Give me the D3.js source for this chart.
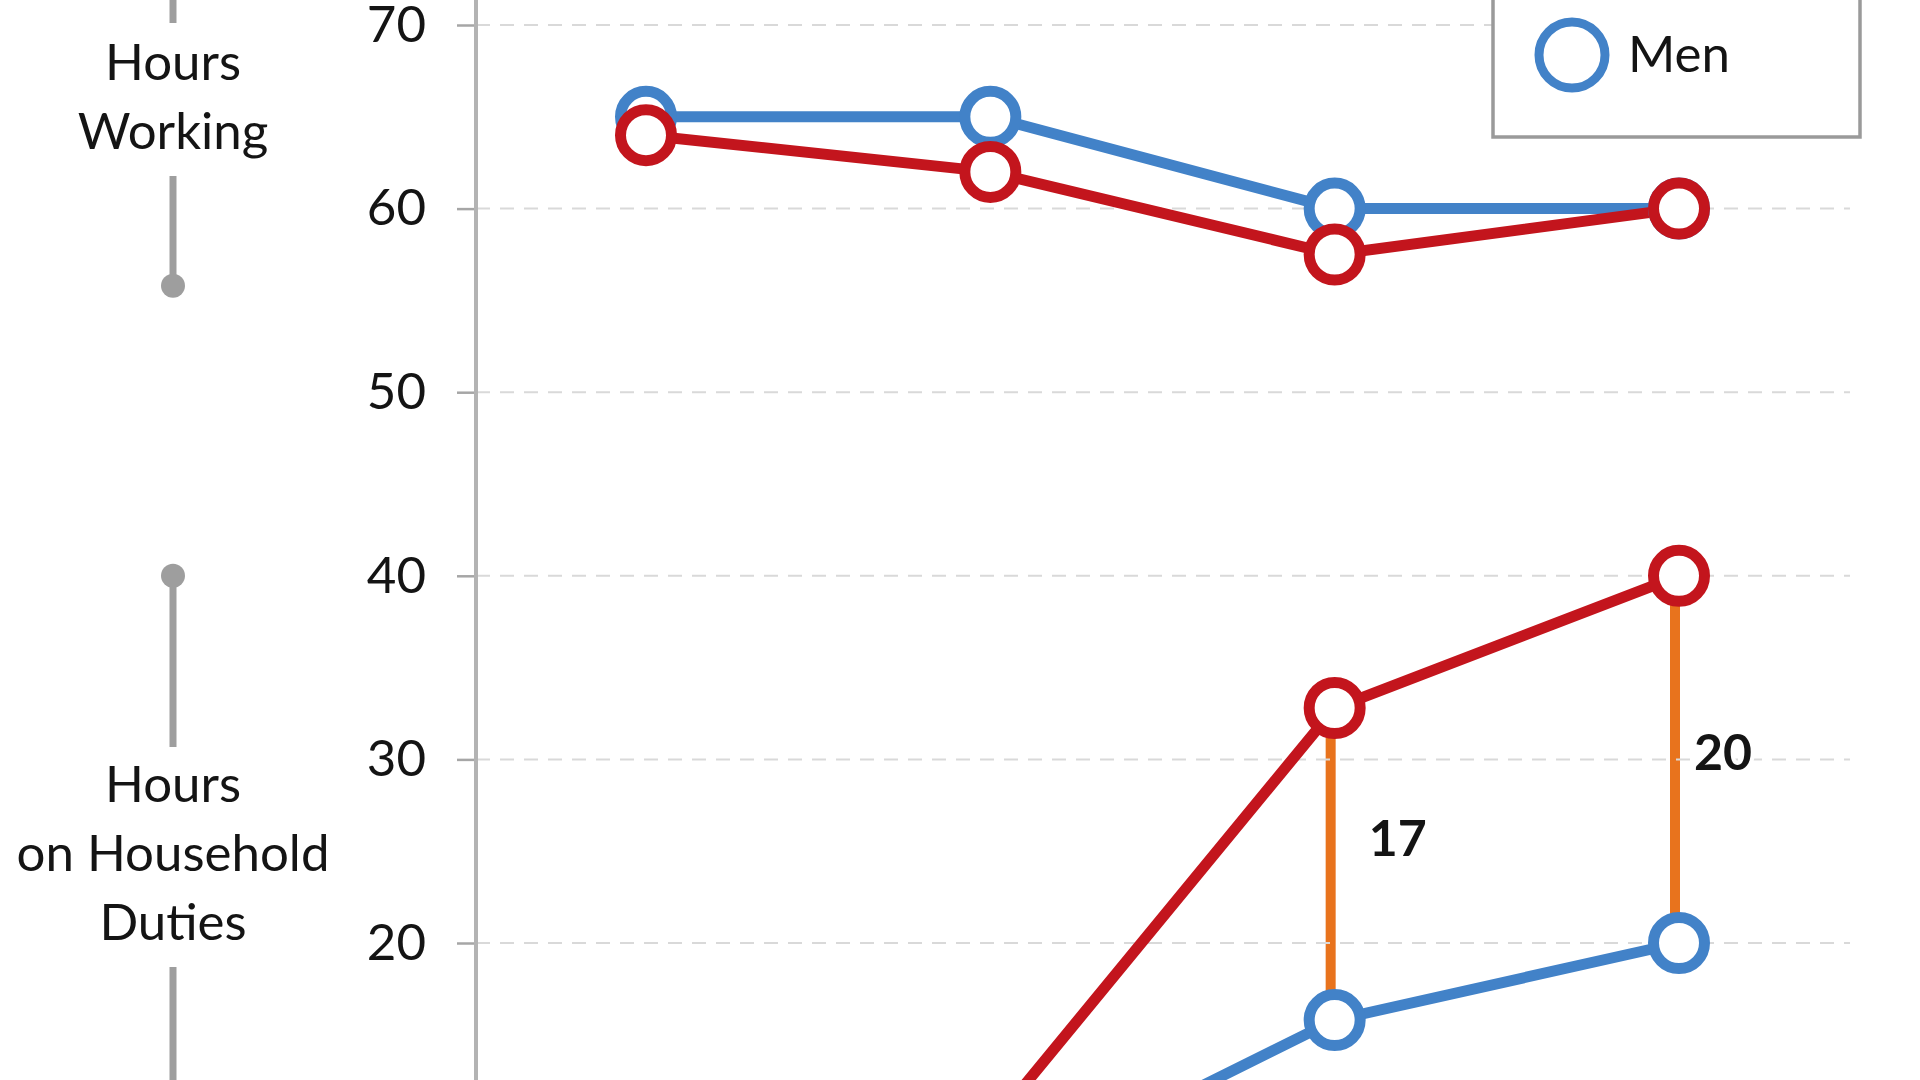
<!DOCTYPE html>
<html>
  <head>
    <style>
      html, body {
        padding: 0;
        margin: 0;
        overflow: hidden;
        background: #ffffff;
      }
      svg {
        font-family: Lato, "Open Sans", sans-serif;
      }
      .grid line {
        stroke: #d9d9d9;
        stroke-width: 2;
        stroke-dasharray: 14 10;
      }
      .axis text {
        font-size: 51px;
        fill: #141414;
      }
      .axis .tick line {
        stroke: #a6a6a6;
        stroke-width: 2.5;
      }
      .side-label {
        font-size: 51px;
        fill: #141414;
        text-anchor: middle;
      }
      .gap-label {
        font-size: 50px;
        font-weight: 700;
        fill: #141414;
        stroke: #ffffff;
        stroke-width: 8px;
        paint-order: stroke;
      }
    </style>
  </head>
  <body>
    <div id="chart"></div>
    <script src="https://cdnjs.cloudflare.com/ajax/libs/d3/7.8.5/d3.min.js"></script>
    <script>
      // stages along the x axis (their labels sit below the visible crop)
      let stages = ['stage1', 'stage2', 'stage3', 'stage4'];

      // weekly hours
      let womenWorking = [64, 62, 57.5, 60];
      let menWorking = [65, 65, 60, 60];
      let womenHousehold = [10, 10, 32.8, 40];
      let menHousehold = [6.5, 6.5, 15.8, 20];

      // gaps marked with the orange bars
      let gapStages = ['stage3', 'stage4'];
      let gapLabels = ['17', '20'];
      let gapLabelValues = [25.7, 30.4];

      let yTicks = [20, 30, 40, 50, 60, 70];
      let gridValues = [10, 20, 30, 40, 50, 60, 70];

      (() => {
        let width = 1920
        let height = 1080

        let blue = '#4282c8'
        let red = '#c3151d'
        let orange = '#e8731d'
        let grey = '#9e9e9e'

        let svg = d3.select('#chart')
          .append('svg')
          .attr('width', width)
          .attr('height', height)

        let x = d3.scalePoint()
          .domain(stages)
          .range([646, 1679])

        let y = d3.scaleLinear()
          .domain([20, 70])
          .range([943, 25])

        let axisX = 476

        // orange gap bars sit under the grid
        let gaps = svg.append('g')
        gapStages.forEach((s, i) => {
          let k = stages.indexOf(s)
          gaps.append('line')
            .attr('x1', x(s) - 4)
            .attr('x2', x(s) - 4)
            .attr('y1', y(womenHousehold[k]))
            .attr('y2', y(menHousehold[k]))
            .attr('stroke', orange)
            .attr('stroke-width', 10)
        })

        // dashed grid
        svg.append('g').attr('class', 'grid')
          .selectAll('line')
          .data(gridValues)
          .enter().append('line')
          .attr('x1', axisX)
          .attr('x2', 1850)
          .attr('y1', d => y(d))
          .attr('y2', d => y(d))

        gapStages.forEach((s, i) => {
          svg.append('text')
            .attr('class', 'gap-label')
            .attr('x', x(s) + (i == 0 ? 34 : 15))
            .attr('y', y(gapLabelValues[i]))
            .attr('dy', '0.35em')
            .text(gapLabels[i])
        })

        // y axis
        let axis = svg.append('g')
          .attr('class', 'axis')
          .attr('transform', 'translate(' + axisX + ',0)')
          .call(d3.axisLeft(y).tickValues(yTicks).tickSize(19).tickPadding(31))
        axis.select('.domain').remove()
        axis.selectAll('text').attr('font-family', 'Lato, sans-serif')
        svg.append('line')
          .attr('x1', axisX).attr('x2', axisX)
          .attr('y1', 0).attr('y2', height)
          .attr('stroke', '#b3b3b3')
          .attr('stroke-width', 4)

        // series
        let line = d3.line()
          .x((d, i) => x(stages[i]))
          .y(d => y(d))

        let series = [
          {values: menWorking, color: blue},
          {values: menHousehold, color: blue},
          {values: womenWorking, color: red},
          {values: womenHousehold, color: red},
        ]

        series.forEach(s => {
          svg.append('path')
            .datum(s.values)
            .attr('d', line)
            .attr('fill', 'none')
            .attr('stroke', s.color)
            .attr('stroke-width', 11)
        })

        series.forEach(s => {
          svg.selectAll(null)
            .data(s.values)
            .enter().append('circle')
            .attr('cx', (d, i) => x(stages[i]))
            .attr('cy', d => y(d))
            .attr('r', 25.5)
            .attr('fill', '#ffffff')
            .attr('stroke', s.color)
            .attr('stroke-width', 11)
        })

        // side brackets
        let brackets = [
          {lines: ['Hours', 'Working'], top: 75, bottom: 55.8, dot: 55.8, textY: 80, gapTop: 23, gapBottom: 176},
          {lines: ['Hours', 'on Household', 'Duties'], top: 40, bottom: 5, dot: 40, textY: 802, gapTop: 747, gapBottom: 967},
        ]
        let bx = 173
        brackets.forEach(b => {
          let g = svg.append('g')
          g.append('line')
            .attr('x1', bx).attr('x2', bx)
            .attr('y1', y(b.top)).attr('y2', b.gapTop)
            .attr('stroke', grey).attr('stroke-width', 7)
          g.append('line')
            .attr('x1', bx).attr('x2', bx)
            .attr('y1', b.gapBottom).attr('y2', y(b.bottom))
            .attr('stroke', grey).attr('stroke-width', 7)
          g.append('circle')
            .attr('cx', bx)
            .attr('cy', y(b.dot))
            .attr('r', 12)
            .attr('fill', grey)
          b.lines.forEach((t, i) => {
            g.append('text')
              .attr('class', 'side-label')
              .attr('x', bx)
              .attr('y', b.textY + i * 69)
              .text(t)
          })
        })

        // legend (its upper entry is cut off in the picture)
        let legend = svg.append('g')
        legend.append('rect')
          .attr('x', 1493)
          .attr('y', -200)
          .attr('width', 367)
          .attr('height', 337)
          .attr('fill', '#ffffff')
          .attr('stroke', '#9a9a9a')
          .attr('stroke-width', 3.5)
        let legendItems = [
          {name: 'Men', color: blue, cy: 55},
        ]
        legendItems.forEach(d => {
          legend.append('circle')
            .attr('cx', 1572)
            .attr('cy', d.cy)
            .attr('r', 33)
            .attr('fill', '#ffffff')
            .attr('stroke', d.color)
            .attr('stroke-width', 9)
          legend.append('text')
            .attr('class', 'side-label')
            .style('text-anchor', 'start')
            .attr('x', 1628)
            .attr('y', d.cy + 17)
            .text(d.name)
        })
      })();
    </script>
  </body>
</html>
